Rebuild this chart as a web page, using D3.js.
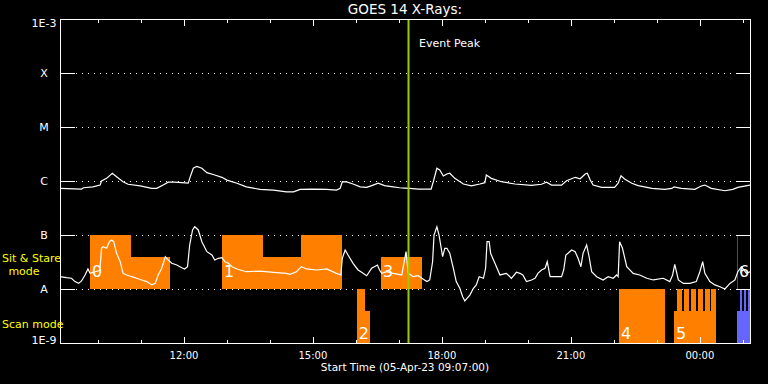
<!DOCTYPE html>
<html>
<head>
<meta charset="utf-8">
<script src="https://cdn.jsdelivr.net/npm/d3@7"></script>
<style>
body { margin: 0; background: #000; }
text { font-family: "DejaVu Sans", sans-serif; }
</style>
</head>
<body>
<svg id="chart" width="768" height="384"></svg>
<script>
// Data
var startTime = "09:07";
var endTime = "01:10";
var peakTime = "17:12";

var yTickValues = [1e-9, 1e-8, 1e-7, 1e-6, 1e-5, 1e-4, 1e-3];
var yTickLabels = ["1E-9", "A", "B", "C", "M", "X", "1E-3"];

// 1-8 A channel (W/m^2)
var longTimes = ["09:07","09:37","09:40","09:53","10:03","10:05","10:12","10:20","10:26","10:35","10:42","10:59",
  "11:15","11:22","11:31","11:38","11:47","12:06","12:08","12:13","12:18","12:25","12:32","12:43","12:53","13:00",
  "13:14","13:27","13:46","14:05","14:23","14:33","14:42","15:00","15:19","15:33","15:38","15:41","15:47","15:56",
  "16:06","16:15","16:24","16:31","16:40","16:52","17:01","17:08","17:15","17:27","17:45","17:48","17:53","17:57",
  "18:02","18:07","18:11","18:18","18:30","18:41","18:53","19:00","19:02","19:09","19:23","19:42","20:05","20:19",
  "20:26","20:33","20:47","20:54","21:06","21:13","21:20","21:23","21:27","21:31","21:43","22:01","22:06","22:10",
  "22:15","22:25","22:34","22:53","23:11","23:21","23:24","23:34","23:53","00:02","00:07","00:16","00:35","00:46",
  "00:53","01:10"];
var longFlux = [0.73e-6,0.71e-6,0.75e-6,0.78e-6,0.84e-6,1.0e-6,1.12e-6,1.39e-6,1.2e-6,0.97e-6,0.87e-6,0.81e-6,
  0.73e-6,0.73e-6,0.84e-6,0.95e-6,0.95e-6,0.91e-6,1.12e-6,1.72e-6,1.87e-6,1.72e-6,1.43e-6,1.29e-6,1.17e-6,1.04e-6,
  0.91e-6,0.78e-6,0.70e-6,0.68e-6,0.63e-6,0.63e-6,0.70e-6,0.71e-6,0.70e-6,0.68e-6,0.73e-6,0.97e-6,0.96e-6,0.88e-6,
  0.78e-6,0.76e-6,0.84e-6,0.91e-6,0.82e-6,0.78e-6,0.75e-6,0.74e-6,0.73e-6,0.71e-6,0.71e-6,0.97e-6,1.72e-6,1.6e-6,
  1.24e-6,1.35e-6,1.39e-6,1.12e-6,0.88e-6,0.81e-6,0.88e-6,0.93e-6,1.29e-6,1.12e-6,0.97e-6,0.88e-6,0.83e-6,0.87e-6,
  0.95e-6,0.84e-6,0.84e-6,1.01e-6,1.17e-6,1.1e-6,1.35e-6,1.39e-6,1.04e-6,0.84e-6,0.76e-6,0.76e-6,0.91e-6,1.25e-6,
  1.09e-6,0.91e-6,0.82e-6,0.73e-6,0.70e-6,0.73e-6,0.78e-6,0.73e-6,0.70e-6,0.81e-6,0.84e-6,0.73e-6,0.66e-6,0.70e-6,
  0.76e-6,0.84e-6];

// 0.5-4 A channel (W/m^2)
var shortTimes = ["09:07","09:16","09:23","09:28","09:33","09:37","09:42","09:46","09:49","09:56","10:02","10:03",
  "10:05","10:07","10:12","10:16","10:19","10:22","10:26","10:31","10:35","10:40","10:47","10:54","11:01","11:08",
  "11:15","11:20","11:24","11:29","11:34","11:38","11:43","11:50","11:57","12:01","12:05","12:08","12:12","12:15",
  "12:20","12:25","12:32","12:39","12:43","12:48","12:53","12:57","13:02","13:07","13:14","13:27","13:46","14:05",
  "14:23","14:28","14:37","14:44","14:51","15:05","15:19","15:33","15:39","15:41","15:45","15:49","15:56","16:03",
  "16:08","16:15","16:22","16:30","16:33","16:36","16:43","16:52","17:04","17:10","17:13","17:20","17:27","17:32",
  "17:39","17:43","17:47","17:49","17:53","17:56","18:01","18:04","18:07","18:11","18:16","18:20","18:25","18:29",
  "18:32","18:35","18:39","18:44","18:48","18:52","18:58","19:01","19:03","19:06","19:08","19:14","19:21","19:30",
  "19:37","19:44","19:49","19:53","19:58","20:05","20:10","20:14","20:19","20:24","20:27","20:31","20:38","20:47",
  "20:50","20:53","20:56","21:01","21:06","21:10","21:14","21:17","21:22","21:25","21:29","21:36","21:45","21:52",
  "21:59","22:04","22:06","22:08","22:12","22:18","22:27","22:36","22:46","22:55","23:09","23:18","23:22","23:25",
  "23:30","23:37","23:46","23:55","00:00","00:04","00:07","00:14","00:21","00:28","00:35","00:42","00:49","00:53",
  "00:58","01:05","01:10"];
var shortFlux = [1.69e-8,1.62e-8,1.58e-8,1.37e-8,1.27e-8,1.41e-8,1.82e-8,2.35e-8,1.95e-8,2.09e-8,2.2e-8,2.59e-8,
  5.67e-8,6.07e-8,5.67e-8,7.52e-8,8.08e-8,7.52e-8,4.58e-8,3.2e-8,1.95e-8,1.82e-8,1.69e-8,1.58e-8,1.47e-8,1.37e-8,
  1.19e-8,1.27e-8,1.82e-8,2.42e-8,3.96e-8,3.44e-8,2.99e-8,2.78e-8,2.48e-8,2.35e-8,2.59e-8,6.53e-8,12.4e-8,14.2e-8,
  12.4e-8,7.52e-8,4.91e-8,4.26e-8,3.44e-8,3.7e-8,3.8e-8,3.2e-8,2.99e-8,2.59e-8,2.35e-8,2.09e-8,2.15e-8,2.04e-8,
  1.95e-8,1.87e-8,2.09e-8,2.59e-8,2.35e-8,2.25e-8,2.35e-8,1.95e-8,1.82e-8,3.7e-8,5.28e-8,4.26e-8,2.99e-8,2.25e-8,
  2.04e-8,1.76e-8,2.42e-8,2.78e-8,2.25e-8,1.95e-8,2.09e-8,1.95e-8,1.82e-8,4.91e-8,1.95e-8,1.69e-8,1.76e-8,1.58e-8,
  1.37e-8,1.47e-8,3.2e-8,10e-8,14.2e-8,10e-8,3.96e-8,5.67e-8,5.67e-8,4.58e-8,2.42e-8,1.37e-8,1.03e-8,0.72e-8,
  0.60e-8,0.67e-8,0.77e-8,1.03e-8,1.19e-8,1.69e-8,1.58e-8,2.42e-8,7.52e-8,7.52e-8,4.58e-8,2.99e-8,1.82e-8,1.95e-8,
  1.58e-8,2.04e-8,1.95e-8,1.82e-8,1.37e-8,1.47e-8,1.58e-8,1.95e-8,2.25e-8,2.42e-8,3.2e-8,1.69e-8,1.69e-8,1.69e-8,
  2.25e-8,4.26e-8,4.58e-8,5.28e-8,4.91e-8,3.7e-8,2.59e-8,4.58e-8,6.53e-8,4.26e-8,2.09e-8,1.69e-8,1.47e-8,1.69e-8,
  1.58e-8,1.82e-8,1.69e-8,7.52e-8,5.67e-8,2.59e-8,1.95e-8,1.82e-8,1.58e-8,1.47e-8,1.58e-8,1.37e-8,1.82e-8,2.87e-8,
  1.47e-8,1.27e-8,1.27e-8,1.37e-8,2.09e-8,3.2e-8,1.95e-8,1.37e-8,1.19e-8,1.1e-8,1.0e-8,1.27e-8,1.47e-8,2.09e-8,
  2.59e-8,1.95e-8,2.09e-8];

// observing mode blocks: [start, end, level]
var sitStareBlocks = [
  ["09:49","10:46","full"], ["10:46","11:41","part"],
  ["12:53","13:50","full"], ["13:50","14:44","part"], ["14:44","15:41","full"],
  ["16:35","17:32","part"]
];
var scanBlocks = [
  ["16:01","16:20","part"], ["16:01","16:12","full"],
  ["22:07","23:11","full"],
  ["23:24","00:23","part"], ["23:28","23:35","full"], ["23:38","23:45","full"], ["23:47","23:54","full"],
  ["23:57","00:04","full"], ["00:07","00:14","full"], ["00:16","00:23","full"]
];
var scanBlocksBlue = [
  ["00:52","01:11","part"], ["00:56","00:59","full"], ["01:01","01:05","full"], ["01:07","01:11","full"]
];
var sitStareMarker = "00:52";

// event numbers: [label, mode, start]
var eventLabels = [["0","sit","09:49"], ["1","sit","12:53"], ["3","sit","16:35"], ["6","sit","00:52"],
  ["2","scan","16:01"], ["4","scan","22:07"], ["5","scan","23:24"]];

function toDate(s) {
  var p = s.split(":");
  var h = +p[0], m = +p[1];
  var day = h < 9 ? 6 : 5;
  return new Date(Date.UTC(2023, 3, day, h, m));
}

var svg = d3.select("#chart");
svg.append("rect").attr("width", 768).attr("height", 384).attr("fill", "#000");

var plotLeft = 60, plotRight = 750, plotTop = 19, plotBottom = 343;

var x = d3.scaleUtc()
  .domain([toDate(startTime), toDate(endTime)])
  .range([plotLeft, plotRight]);
var y = d3.scaleLog()
  .domain([1e-9, 1e-3])
  .range([plotBottom, plotTop]);

var rows = { sit: [1e-8, 1e-7], scan: [1e-9, 1e-8] };
var partFrac = 0.6;

function yPix(d) { return Math.round(y(d)) + 0.5 }

// dotted grid
var inner = yTickValues.slice(1, -1);
svg.selectAll(".grid")
  .data(inner)
  .enter()
  .append("line")
  .attr("class", "grid")
  .attr("x1", plotLeft + 16).attr("x2", plotRight - 14)
  .attr("y1", yPix)
  .attr("y2", yPix)
  .attr("stroke", "#fff")
  .attr("stroke-dasharray", "1 5")
  .attr("shape-rendering", "crispEdges");

function blockTop(row, level) {
  var lo = Math.log10(rows[row][0]), hi = Math.log10(rows[row][1]);
  var f = level == "full" ? 1 : partFrac;
  return y(Math.pow(10, lo + (hi - lo) * f));
}

function drawBlocks(list, row, color) {
  svg.append("g").selectAll("rect")
    .data(list)
    .enter()
    .append("rect")
    .attr("x", function(d) { return x(toDate(d[0])) })
    .attr("width", function(d) { return x(toDate(d[1])) - x(toDate(d[0])) })
    .attr("y", function(d) { return blockTop(row, d[2]) })
    .attr("height", function(d) { return y(rows[row][0]) - blockTop(row, d[2]) })
    .attr("fill", color)
    .attr("shape-rendering", "crispEdges");
}

drawBlocks(sitStareBlocks, "sit", "#ff8000");
drawBlocks(scanBlocks, "scan", "#ff8000");
drawBlocks(scanBlocksBlue, "scan", "#6666ff");

svg.append("line")
  .attr("x1", Math.round(x(toDate(sitStareMarker))) + 0.5)
  .attr("x2", Math.round(x(toDate(sitStareMarker))) + 0.5)
  .attr("y1", y(rows.sit[1])).attr("y2", y(rows.sit[0]))
  .attr("stroke", "#c000c0");

// event numbers
svg.selectAll(".evt")
  .data(eventLabels)
  .enter()
  .append("text")
  .attr("class", "evt")
  .attr("x", function(d) { return x(toDate(d[2])) + 2 })
  .attr("y", function(d) { return d[1] == "sit" ? y(rows.sit[0]) - 12 : y(rows.scan[0]) - 4 })
  .attr("fill", "#fff")
  .attr("font-size", 16)
  .text(function(d) { return d[0] });

// curves
var line = d3.line()
  .x(function(d) { return x(toDate(d[0])) })
  .y(function(d) { return y(d[1]) });

svg.append("path")
  .datum(d3.zip(longTimes, longFlux))
  .attr("d", line)
  .attr("fill", "none")
  .attr("stroke", "#fff")
  .attr("stroke-width", 1.2);

svg.append("path")
  .datum(d3.zip(shortTimes, shortFlux))
  .attr("d", line)
  .attr("fill", "none")
  .attr("stroke", "#fff")
  .attr("stroke-width", 1.2);

// event peak
var px = Math.round(x(toDate(peakTime)));
svg.append("line")
  .attr("x1", px + 0.5).attr("x2", px + 0.5)
  .attr("y1", plotTop).attr("y2", plotBottom)
  .attr("stroke", "#99cc00")
  .attr("stroke-width", 2);
svg.append("text")
  .attr("x", px + 11).attr("y", 47)
  .attr("fill", "#fff")
  .attr("font-size", 11)
  .text("Event Peak");

// frame
svg.append("rect")
  .attr("x", plotLeft + 0.5).attr("y", plotTop + 0.5)
  .attr("width", plotRight - plotLeft).attr("height", plotBottom - plotTop)
  .attr("fill", "none")
  .attr("stroke", "#fff")
  .attr("shape-rendering", "crispEdges");

// left / right decade ticks
svg.selectAll(".ltick")
  .data(inner)
  .enter()
  .append("line")
  .attr("x1", plotLeft).attr("x2", plotLeft + 15)
  .attr("y1", yPix).attr("y2", yPix)
  .attr("stroke", "#fff");
svg.selectAll(".rtick")
  .data(inner)
  .enter()
  .append("line")
  .attr("x1", plotRight - 14).attr("x2", plotRight)
  .attr("y1", yPix).attr("y2", yPix)
  .attr("stroke", "#fff");

svg.selectAll(".ylab")
  .data(yTickValues)
  .enter()
  .append("text")
  .attr("x", 44)
  .attr("y", function(d, i) {
    if (i == 0) return y(d) + 1;
    if (i == yTickValues.length - 1) return y(d) + 8;
    return y(d) + 4;
  })
  .attr("text-anchor", "middle")
  .attr("fill", "#fff")
  .attr("font-size", 11)
  .text(function(d, i) { return yTickLabels[i] });

// time ticks, top and bottom
var hours = x.ticks(d3.utcHour.every(1));
function isMajor(d) { return d.getUTCHours() % 3 == 0 }

svg.selectAll(".btick")
  .data(hours)
  .enter()
  .append("line")
  .attr("x1", function(d) { return Math.round(x(d)) + 0.5 })
  .attr("x2", function(d) { return Math.round(x(d)) + 0.5 })
  .attr("y1", plotBottom)
  .attr("y2", function(d) { return isMajor(d) ? plotBottom - 6 : plotBottom - 3 })
  .attr("stroke", "#fff");
svg.selectAll(".ttick")
  .data(hours)
  .enter()
  .append("line")
  .attr("x1", function(d) { return Math.round(x(d)) + 0.5 })
  .attr("x2", function(d) { return Math.round(x(d)) + 0.5 })
  .attr("y1", plotTop)
  .attr("y2", function(d) { return isMajor(d) ? plotTop + 7 : plotTop + 4 })
  .attr("stroke", "#fff");

var fmt = d3.utcFormat("%H:%M");
svg.selectAll(".xlab")
  .data(hours.filter(isMajor))
  .enter()
  .append("text")
  .attr("x", function(d) { return x(d) })
  .attr("y", 359)
  .attr("text-anchor", "middle")
  .attr("fill", "#fff")
  .attr("font-size", 10)
  .text(function(d) { return fmt(d) });

// titles
svg.append("text")
  .attr("x", (plotLeft + plotRight) / 2).attr("y", 14)
  .attr("text-anchor", "middle")
  .attr("fill", "#fff")
  .attr("font-size", 13.5)
  .text("GOES 14 X-Rays:");
svg.append("text")
  .attr("x", (plotLeft + plotRight) / 2).attr("y", 371)
  .attr("text-anchor", "middle")
  .attr("fill", "#fff")
  .attr("font-size", 10.5)
  .text("Start Time (05-Apr-23 09:07:00)");

svg.append("text")
  .attr("x", 2).attr("y", 262)
  .attr("fill", "#ffff00").attr("font-size", 11)
  .text("Sit & Stare");
svg.append("text")
  .attr("x", 24).attr("y", 275)
  .attr("text-anchor", "middle")
  .attr("fill", "#ffff00").attr("font-size", 11)
  .text("mode");
svg.append("text")
  .attr("x", 2).attr("y", 328)
  .attr("fill", "#ffff00").attr("font-size", 11)
  .text("Scan mode");
</script>
</body>
</html>
